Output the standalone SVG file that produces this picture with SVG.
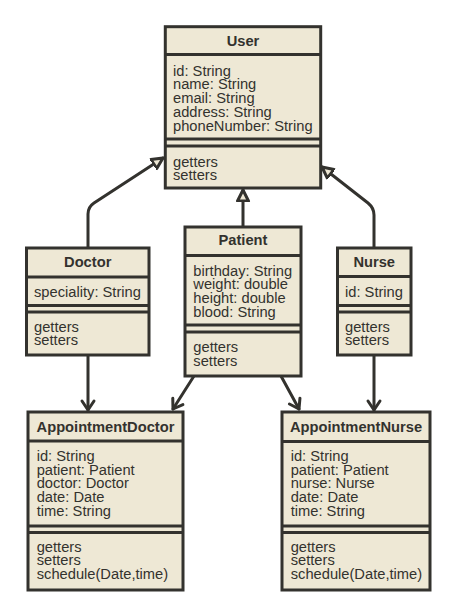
<svg xmlns="http://www.w3.org/2000/svg" width="455" height="614" viewBox="0 0 455 614">
<style>
.box{fill:#eee8d5;stroke:#33322e;stroke-width:3}
.div{stroke:#33322e;stroke-width:3}
.t{font-family:"Liberation Sans",Arial,sans-serif;font-size:14.7px;fill:#33322e}
.b{font-weight:bold;text-anchor:middle}
.edge{fill:none;stroke:#33322e;stroke-width:3;stroke-linejoin:round;stroke-linecap:round}
</style>
<defs>
<marker id="tri" markerUnits="userSpaceOnUse" markerWidth="20" markerHeight="20" refX="12" refY="10" orient="auto">
<path d="M1,4.5 L12,10 L1,15.5 Z" fill="#eee8d5" stroke="#33322e" stroke-width="3" stroke-linejoin="round"/>
</marker>
<marker id="vee" markerUnits="userSpaceOnUse" markerWidth="20" markerHeight="20" refX="12" refY="10" orient="auto">
<path d="M3,4 L12,10 L3,16" fill="none" stroke="#33322e" stroke-width="3" stroke-linejoin="round" stroke-linecap="round"/>
</marker>
</defs>
<g id="connectors">
<path class="edge" d="M88,248 L88,214 Q88,207 94,203 L163,158" marker-end="url(#tri)"/>
<path class="edge" d="M243,227 L243,190" marker-end="url(#tri)"/>
<path class="edge" d="M374,248 L374,215 Q374,208 368,203 L322,167" marker-end="url(#tri)"/>
<path class="edge" d="M88,355 L88,410" marker-end="url(#vee)"/>
<path class="edge" d="M194,376 L173,409" marker-end="url(#vee)"/>
<path class="edge" d="M281,376 L299,409" marker-end="url(#vee)"/>
<path class="edge" d="M374,355 L374,410" marker-end="url(#vee)"/>
</g>
<g id="User">
<rect class="box" x="165.3" y="26.7" width="155.4" height="161.3"/>
<line class="div" x1="165.3" y1="54.5" x2="320.7" y2="54.5"/>
<line class="div" x1="165.3" y1="139" x2="320.7" y2="139"/>
<line class="div" x1="165.3" y1="146" x2="320.7" y2="146"/>
<text class="t b" x="243" y="46">User</text>
<text class="t" x="173" y="75.7">id: String</text>
<text class="t" x="173" y="89.4">name: String</text>
<text class="t" x="173" y="103.1">email: String</text>
<text class="t" x="173" y="116.8">address: String</text>
<text class="t" x="173" y="130.5">phoneNumber: String</text>
<text class="t" x="173" y="166.7">getters</text>
<text class="t" x="173" y="180.4">setters</text>
</g>
<g id="Doctor">
<rect class="box" x="26.5" y="248" width="122.5" height="107"/>
<line class="div" x1="26.5" y1="277" x2="149" y2="277"/>
<line class="div" x1="26.5" y1="305.5" x2="149" y2="305.5"/>
<line class="div" x1="26.5" y1="312" x2="149" y2="312"/>
<text class="t b" x="87.7" y="267.3">Doctor</text>
<text class="t" x="34" y="296.7">speciality: String</text>
<text class="t" x="34" y="331.7">getters</text>
<text class="t" x="34" y="345.4">setters</text>
</g>
<g id="Patient">
<rect class="box" x="185" y="227" width="116" height="149"/>
<line class="div" x1="185" y1="255.5" x2="301" y2="255.5"/>
<line class="div" x1="185" y1="325" x2="301" y2="325"/>
<line class="div" x1="185" y1="332" x2="301" y2="332"/>
<text class="t b" x="243" y="245.3">Patient</text>
<text class="t" x="193.3" y="275.7">birthday: String</text>
<text class="t" x="193.3" y="289.4">weight: double</text>
<text class="t" x="193.3" y="303.1">height: double</text>
<text class="t" x="193.3" y="316.8">blood: String</text>
<text class="t" x="193.3" y="352.3">getters</text>
<text class="t" x="193.3" y="366">setters</text>
</g>
<g id="Nurse">
<rect class="box" x="337.5" y="248" width="73.5" height="107"/>
<line class="div" x1="337.5" y1="276.5" x2="411" y2="276.5"/>
<line class="div" x1="337.5" y1="305.5" x2="411" y2="305.5"/>
<line class="div" x1="337.5" y1="312" x2="411" y2="312"/>
<text class="t b" x="374.2" y="267.3">Nurse</text>
<text class="t" x="345" y="296.7">id: String</text>
<text class="t" x="345" y="331.7">getters</text>
<text class="t" x="345" y="345.4">setters</text>
</g>
<g id="AppointmentDoctor">
<rect class="box" x="28" y="412" width="155" height="178"/>
<line class="div" x1="28" y1="441" x2="183" y2="441"/>
<line class="div" x1="28" y1="526" x2="183" y2="526"/>
<line class="div" x1="28" y1="532.5" x2="183" y2="532.5"/>
<text class="t b" x="105.5" y="432">AppointmentDoctor</text>
<text class="t" x="36.7" y="461">id: String</text>
<text class="t" x="36.7" y="474.7">patient: Patient</text>
<text class="t" x="36.7" y="488.4">doctor: Doctor</text>
<text class="t" x="36.7" y="502.1">date: Date</text>
<text class="t" x="36.7" y="515.8">time: String</text>
<text class="t" x="36.7" y="551.7">getters</text>
<text class="t" x="36.7" y="565.4">setters</text>
<text class="t" x="36.7" y="579.1">schedule(Date,time)</text>
</g>
<g id="AppointmentNurse">
<rect class="box" x="282" y="412" width="148" height="178"/>
<line class="div" x1="282" y1="441.5" x2="430" y2="441.5"/>
<line class="div" x1="282" y1="526" x2="430" y2="526"/>
<line class="div" x1="282" y1="532.5" x2="430" y2="532.5"/>
<text class="t b" x="356" y="432">AppointmentNurse</text>
<text class="t" x="290.7" y="461">id: String</text>
<text class="t" x="290.7" y="474.7">patient: Patient</text>
<text class="t" x="290.7" y="488.4">nurse: Nurse</text>
<text class="t" x="290.7" y="502.1">date: Date</text>
<text class="t" x="290.7" y="515.8">time: String</text>
<text class="t" x="290.7" y="551.7">getters</text>
<text class="t" x="290.7" y="565.4">setters</text>
<text class="t" x="290.7" y="579.1">schedule(Date,time)</text>
</g>
</svg>
